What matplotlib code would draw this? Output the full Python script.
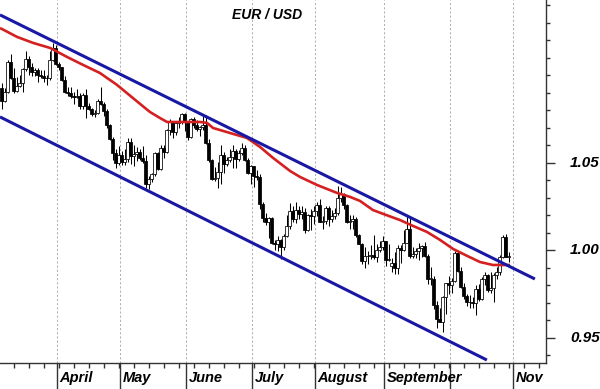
import matplotlib
matplotlib.use("Agg")
import matplotlib.pyplot as plt
import matplotlib.ticker as mticker
import numpy as np
import pandas as pd

# daily EUR/USD candles, 7 Mar - 28 Oct (trading days)
days = pd.bdate_range("2022-03-07", "2022-10-28")

opens = [
    1.0930, 1.0855, 1.0905, 1.1075, 1.0985, 1.0912, 1.0942, 1.0955, 1.1035, 1.1093,
    1.1050, 1.1017, 1.1030, 1.1005, 1.0996, 1.0984, 1.0985, 1.1087, 1.1159, 1.1066,
    1.1046, 1.0973, 1.0904, 1.0900, 1.0880, 1.0876, 1.0885, 1.0827, 1.0891, 1.0826,
    1.0808, 1.0779, 1.0787, 1.0853, 1.0838, 1.0799, 1.0714, 1.0636, 1.0557, 1.0497,
    1.0545, 1.0505, 1.0521, 1.0620, 1.0541, 1.0550, 1.0560, 1.0530, 1.0513, 1.0380,
    1.0411, 1.0435, 1.0554, 1.0464, 1.0586, 1.0562, 1.0690, 1.0734, 1.0676, 1.0726,
    1.0734, 1.0781, 1.0733, 1.0647, 1.0750, 1.0719, 1.0696, 1.0705, 1.0718, 1.0615,
    1.0519, 1.0408, 1.0414, 1.0446, 1.0547, 1.0493, 1.0514, 1.0535, 1.0567, 1.0522,
    1.0555, 1.0584, 1.0518, 1.0443, 1.0484, 1.0425, 1.0422, 1.0265, 1.0183, 1.0160,
    1.0185, 1.0040, 1.0037, 1.0061, 1.0018, 1.0080, 1.0142, 1.0226, 1.0179, 1.0230,
    1.0211, 1.0222, 1.0117, 1.0200, 1.0198, 1.0224, 1.0262, 1.0165, 1.0170, 1.0245,
    1.0180, 1.0197, 1.0212, 1.0298, 1.0322, 1.0258, 1.0160, 1.0170, 1.0177, 1.0088,
    1.0037, 0.9941, 0.9966, 0.9970, 0.9975, 0.9965, 1.0000, 1.0019, 1.0054, 0.9944,
    0.9910, 0.9928, 0.9902, 1.0014, 1.0001, 1.0042, 1.0120, 0.9971, 0.9978, 0.9998,
    1.0015, 1.0025, 0.9970, 0.9837, 0.9837, 0.9690, 0.9606, 0.9593, 0.9736, 0.9815,
    0.9802, 0.9825, 0.9986, 0.9885, 0.9793, 0.9741, 0.9703, 0.9705, 0.9701, 0.9779,
    0.9722, 0.9839, 0.9858, 0.9775, 0.9785, 0.9860, 0.9875, 0.9962, 1.0079, 0.9964,
]
highs = [
    1.0955, 1.0930, 1.1090, 1.1120, 1.1040, 1.0990, 1.1000, 1.1040, 1.1137, 1.1110,
    1.1070, 1.1045, 1.1040, 1.1030, 1.1030, 1.1000, 1.1137, 1.1185, 1.1175, 1.1075,
    1.1050, 1.0995, 1.0935, 1.0935, 1.0905, 1.0925, 1.0900, 1.0900, 1.0925, 1.0840,
    1.0815, 1.0800, 1.0865, 1.0936, 1.0850, 1.0810, 1.0725, 1.0650, 1.0580, 1.0595,
    1.0570, 1.0580, 1.0640, 1.0640, 1.0600, 1.0590, 1.0580, 1.0595, 1.0545, 1.0425,
    1.0445, 1.0565, 1.0565, 1.0605, 1.0600, 1.0695, 1.0750, 1.0740, 1.0735, 1.0765,
    1.0787, 1.0785, 1.0740, 1.0755, 1.0765, 1.0745, 1.0710, 1.0774, 1.0775, 1.0635,
    1.0525, 1.0475, 1.0505, 1.0601, 1.0565, 1.0535, 1.0580, 1.0605, 1.0580, 1.0575,
    1.0615, 1.0605, 1.0530, 1.0490, 1.0485, 1.0460, 1.0435, 1.0275, 1.0215, 1.0190,
    1.0190, 1.0060, 1.0085, 1.0065, 1.0095, 1.0200, 1.0270, 1.0255, 1.0278, 1.0255,
    1.0255, 1.0245, 1.0210, 1.0235, 1.0255, 1.0275, 1.0295, 1.0195, 1.0255, 1.0255,
    1.0230, 1.0245, 1.0368, 1.0364, 1.0330, 1.0265, 1.0200, 1.0200, 1.0190, 1.0095,
    1.0045, 1.0020, 0.9995, 1.0030, 1.0090, 1.0035, 1.0055, 1.0080, 1.0055, 1.0035,
    0.9955, 0.9990, 1.0030, 1.0030, 1.0115, 1.0198, 1.0185, 1.0020, 1.0015, 1.0040,
    1.0030, 1.0050, 0.9980, 0.9905, 0.9855, 0.9710, 0.9670, 0.9740, 0.9815, 0.9855,
    0.9840, 0.9999, 0.9990, 0.9905, 0.9815, 0.9750, 0.9745, 0.9735, 0.9805, 0.9810,
    0.9850, 0.9875, 0.9865, 0.9875, 0.9870, 0.9905, 0.9975, 1.0090, 1.0094, 0.9990,
]
lows = [
    1.0806, 1.0850, 1.0900, 1.0980, 1.0900, 1.0905, 1.0935, 1.0905, 1.1025, 1.1005,
    1.0995, 1.0995, 1.0965, 1.0985, 1.0960, 1.0945, 1.0975, 1.1080, 1.1060, 1.1030,
    1.0970, 1.0900, 1.0880, 1.0870, 1.0835, 1.0870, 1.0810, 1.0810, 1.0757, 1.0800,
    1.0770, 1.0760, 1.0780, 1.0830, 1.0770, 1.0700, 1.0630, 1.0515, 1.0471, 1.0490,
    1.0490, 1.0490, 1.0505, 1.0495, 1.0485, 1.0510, 1.0515, 1.0500, 1.0355, 1.0350,
    1.0390, 1.0425, 1.0460, 1.0460, 1.0530, 1.0555, 1.0660, 1.0640, 1.0660, 1.0700,
    1.0725, 1.0680, 1.0630, 1.0640, 1.0700, 1.0680, 1.0655, 1.0690, 1.0610, 1.0505,
    1.0400, 1.0395, 1.0359, 1.0380, 1.0445, 1.0480, 1.0505, 1.0470, 1.0470, 1.0510,
    1.0545, 1.0510, 1.0435, 1.0380, 1.0365, 1.0405, 1.0235, 1.0160, 1.0145, 1.0070,
    1.0035, 1.0000, 0.9998, 0.9952, 1.0005, 1.0075, 1.0125, 1.0160, 1.0155, 1.0180,
    1.0180, 1.0100, 1.0110, 1.0115, 1.0150, 1.0195, 1.0160, 1.0125, 1.0150, 1.0140,
    1.0160, 1.0180, 1.0200, 1.0275, 1.0235, 1.0155, 1.0125, 1.0120, 1.0075, 1.0035,
    0.9925, 0.9900, 0.9925, 0.9950, 0.9950, 0.9935, 0.9990, 1.0000, 0.9910, 0.9940,
    0.9877, 0.9865, 0.9865, 0.9930, 0.9995, 1.0040, 0.9955, 0.9955, 0.9955, 0.9945,
    0.9965, 0.9965, 0.9810, 0.9805, 0.9665, 0.9555, 0.9590, 0.9536, 0.9635, 0.9750,
    0.9755, 0.9820, 0.9875, 0.9785, 0.9725, 0.9680, 0.9670, 0.9670, 0.9632, 0.9710,
    0.9715, 0.9800, 0.9765, 0.9755, 0.9705, 0.9835, 0.9860, 0.9955, 0.9960, 0.9935,
]
closes = [
    1.0855, 1.0905, 1.1075, 1.0985, 1.0912, 1.0942, 1.0955, 1.1035, 1.1093, 1.1050,
    1.1017, 1.1030, 1.1005, 1.0996, 1.0984, 1.0985, 1.1087, 1.1159, 1.1066, 1.1046,
    1.0973, 1.0904, 1.0900, 1.0880, 1.0876, 1.0885, 1.0827, 1.0891, 1.0826, 1.0808,
    1.0779, 1.0787, 1.0853, 1.0838, 1.0799, 1.0714, 1.0636, 1.0557, 1.0497, 1.0545,
    1.0505, 1.0521, 1.0620, 1.0541, 1.0550, 1.0560, 1.0530, 1.0513, 1.0380, 1.0411,
    1.0435, 1.0554, 1.0464, 1.0586, 1.0562, 1.0690, 1.0734, 1.0676, 1.0726, 1.0734,
    1.0781, 1.0733, 1.0647, 1.0750, 1.0719, 1.0696, 1.0705, 1.0718, 1.0615, 1.0519,
    1.0408, 1.0414, 1.0446, 1.0547, 1.0493, 1.0514, 1.0535, 1.0567, 1.0522, 1.0555,
    1.0584, 1.0518, 1.0443, 1.0484, 1.0425, 1.0422, 1.0265, 1.0183, 1.0160, 1.0185,
    1.0040, 1.0037, 1.0061, 1.0018, 1.0080, 1.0142, 1.0226, 1.0179, 1.0230, 1.0211,
    1.0222, 1.0117, 1.0200, 1.0198, 1.0224, 1.0262, 1.0165, 1.0170, 1.0245, 1.0180,
    1.0197, 1.0212, 1.0298, 1.0322, 1.0258, 1.0160, 1.0170, 1.0177, 1.0088, 1.0037,
    0.9941, 0.9966, 0.9970, 0.9975, 0.9965, 1.0000, 1.0019, 1.0054, 0.9944, 0.9952,
    0.9928, 0.9902, 1.0014, 1.0001, 1.0042, 1.0120, 0.9971, 0.9978, 0.9998, 1.0015,
    1.0025, 0.9970, 0.9837, 0.9837, 0.9690, 0.9606, 0.9593, 0.9736, 0.9815, 0.9802,
    0.9825, 0.9986, 0.9885, 0.9793, 0.9741, 0.9703, 0.9705, 0.9701, 0.9779, 0.9722,
    0.9839, 0.9858, 0.9775, 0.9785, 0.9860, 0.9875, 0.9962, 1.0079, 0.9964, 0.9965,
]

# moving average (trading-day position, price)
ma_pos = [-0.5, 5.2, 10.5, 16.2, 21.8, 27.2, 32.8, 38.5, 43.8, 49.5, 52.8, 55.2,
          60.5, 66.2, 68.5, 70.5, 76.2, 81.8, 86.2, 90.5, 96.2, 99.5, 105.2, 111.8,
          116.2, 119.5, 123.8, 127.2, 132.8, 137.2, 141.8, 146.2, 150.5, 155.2,
          159.5, 163.8, 169.5]
ma_val = [1.1271, 1.1220, 1.1186, 1.1157, 1.1106, 1.1060, 1.1014, 1.0946, 1.0871,
          1.0791, 1.0757, 1.0734, 1.0734, 1.0734, 1.0729, 1.0700, 1.0671, 1.0643,
          1.0591, 1.0529, 1.0454, 1.0420, 1.0374, 1.0329, 1.0306, 1.0283, 1.0231,
          1.0209, 1.0174, 1.0140, 1.0106, 1.0060, 1.0009, 0.9969, 0.9934, 0.9917,
          0.9917]

# trend channel
upper_pos = [-0.5, 177.8]
upper_val = [1.1346, 0.9837]
lower_pos = [-0.5, 161.8]
lower_val = [1.0763, 0.9374]

price_ticks = [0.95, 1.00, 1.05]
month_labels = ["April", "May", "June", "July", "August", "September", "", "Nov"]
month_starts = pd.date_range("2022-04-01", periods=8, freq="MS")

axis_days = pd.bdate_range("2022-03-07", "2022-12-30")
month_pos = axis_days.searchsorted(month_starts) - 0.5
fridays = np.where(axis_days.dayofweek == 4)[0]
fridays = fridays[fridays < 181]

x = np.arange(len(days))
o = np.array(opens)
c = np.array(closes)
up = c >= o
body_bottom = np.minimum(o, c)
body_height = np.maximum(np.abs(c - o), 0.0004)

font = dict(family="Liberation Sans", weight="bold", style="italic")

fig = plt.figure(figsize=(6, 3.89), dpi=100)
ax = fig.add_axes([0, 26 / 389, 546 / 600, 363 / 389])

ax.vlines(x, lows, highs, color="black", lw=0.75, zorder=2)
ax.bar(x[up], body_height[up], bottom=body_bottom[up], width=0.72,
       color="white", edgecolor="black", lw=0.55, zorder=3)
ax.bar(x[~up], body_height[~up], bottom=body_bottom[~up], width=0.72,
       color="black", edgecolor="black", lw=0.55, zorder=3)

ax.plot(ma_pos, ma_val, color="#d42020", lw=1.9, zorder=4, solid_capstyle="butt")
ax.plot(upper_pos, upper_val, color="#1818a4", lw=2.2, zorder=5, solid_capstyle="butt")
ax.plot(lower_pos, lower_val, color="#1818a4", lw=2.2, zorder=5, solid_capstyle="butt")

ax.set_xlim(-0.5, 181.5)
ax.set_ylim(0.9357, 1.1431)

for side in ["left", "top"]:
    ax.spines[side].set_visible(False)
for side in ["right", "bottom"]:
    ax.spines[side].set_color("#333333")
    ax.spines[side].set_linewidth(1.0)

# price scale on the right, labels drawn as text so they sit where the original has them
ax.yaxis.tick_right()
ax.yaxis.set_major_locator(mticker.FixedLocator(price_ticks))
ax.yaxis.set_minor_locator(mticker.MultipleLocator(0.01))
ax.yaxis.set_major_formatter(mticker.NullFormatter())
ax.tick_params(axis="y", which="major", length=6.5, width=1, color="#333333")
ax.tick_params(axis="y", which="minor", length=3, width=1, color="#333333")
for p in price_ticks:
    ax.text(1.0 + 24 / 546, p, f"{p:.2f}", transform=ax.get_yaxis_transform(),
            ha="left", va="center", fontsize=11, clip_on=False, **font)

ax.xaxis.set_major_locator(mticker.FixedLocator(month_pos))
ax.xaxis.set_minor_locator(mticker.FixedLocator(fridays))
ax.xaxis.set_major_formatter(mticker.NullFormatter())
ax.tick_params(axis="x", which="major", length=19, width=1, color="#333333")
ax.tick_params(axis="x", which="minor", length=3.6, width=1, color="#333333")
ax.grid(axis="x", which="major", color="#b0b0b0", linestyle=(0, (2, 2)), lw=0.75)
ax.set_axisbelow(True)

for pos, label in zip(month_pos, month_labels):
    ax.text(pos + 0.8, -0.022, label, transform=ax.get_xaxis_transform(),
            ha="left", va="top", fontsize=10.5, clip_on=False, **font)

ax.text(0.49, 0.958, "EUR / USD", transform=ax.transAxes, ha="center",
        va="center", fontsize=10, **font)

fig.savefig("out.png", dpi=100)
